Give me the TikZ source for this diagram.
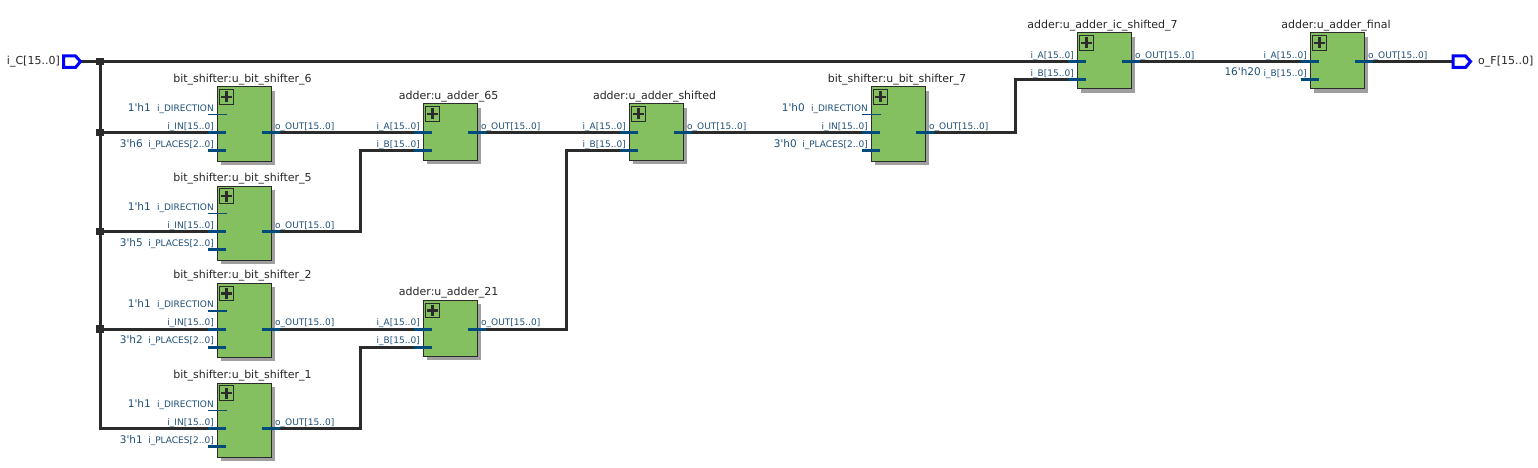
\documentclass[tikz,border=0pt]{standalone}
\usepackage{fontspec}
\newfontfamily\schemfont{DejaVu Sans}
\usetikzlibrary{shadows}
\definecolor{blockgreen}{HTML}{84C060}
\definecolor{portblue}{HTML}{004A7C}
\definecolor{labelblue}{HTML}{1F5078}
\definecolor{wiregray}{HTML}{2B2B2B}

\begin{document}
\catcode`\_=12
\begin{tikzpicture}[%
        x = 1pt,
        y = -1pt,
        wire/.style = {%
            draw = wiregray,
            line width = 3pt
        },
        thickport/.style = {%
            draw = portblue,
            line width = 3pt
        },
        thinport/.style = {%
            draw = portblue,
            line width = 1.1pt
        },
        block/.style = {%
            draw = wiregray,
            fill = blockgreen,
            line width = 0.9pt,
            anchor = north west,
            minimum width = 54pt,
            inner sep = 0pt,
            drop shadow = {%
                shadow xshift = 4pt,
                shadow yshift = -4pt,
                fill = gray!75,
                opacity = 1
            }
        },
        icon/.style = {%
            draw = wiregray,
            fill = blockgreen,
            line width = 0.7pt,
            minimum size = 14.5pt,
            inner sep = 0pt
        },
        junction/.style = {%
            fill = wiregray,
            minimum size = 7.5pt,
            inner sep = 0pt
        },
        pin/.style = {%
            draw = blue,
            line width = 3pt,
            fill = white,
            line join = miter
        },
        title/.style = {%
            font = \schemfont\fontsize{11}{12}\selectfont,
            text = black!85,
            inner sep = 0pt
        },
        portlabel/.style = {%
            font = \schemfont\fontsize{9}{10}\selectfont,
            text = labelblue,
            inner sep = 0pt
        },
        constant/.style = {%
            font = \schemfont\fontsize{10.5}{12}\selectfont,
            text = labelblue,
            inner sep = 0pt,
            anchor = east
        }
    ]

        \useasboundingbox (0, 0) rectangle (1538, 468);

        % Coordinates where the wires change direction.
        \coordinate (corner_bus) at (100, 428.5);
        \coordinate (corner_5a) at (360, 231.5);
        \coordinate (corner_5b) at (360, 150.5);
        \coordinate (corner_1a) at (360, 428.5);
        \coordinate (corner_1b) at (360, 347);
        \coordinate (corner_21a) at (566, 329);
        \coordinate (corner_21b) at (566, 150.5);
        \coordinate (corner_7a) at (1015, 132.5);
        \coordinate (corner_7b) at (1015, 79.5);

        % Ends of the wires at the blocks, set before the blocks go on top.
        \foreach \name/\x/\y in {%
            u_bit_shifter_6/216.5/86.5,
            u_bit_shifter_5/216.5/185.5,
            u_bit_shifter_2/216.5/283,
            u_bit_shifter_1/216.5/382.5,
            u_bit_shifter_7/870.5/86.5
        } {%
            \coordinate (\name_dir) at (\x - 9, \y + 28);
            \coordinate (\name_in) at (\x - 9, \y + 46);
            \coordinate (\name_places) at (\x - 9, \y + 64);
            \coordinate (\name_out) at (\x + 63, \y + 46);
        }
        \foreach \name/\x/\y in {%
            u_adder_65/422.5/103.5,
            u_adder_21/422.5/300,
            u_adder_shifted/628.5/103.5,
            u_adder_ic_shifted_7/1076.5/32.5,
            u_adder_final/1309.5/32.5
        } {%
            \coordinate (\name_a) at (\x - 9, \y + 29);
            \coordinate (\name_b) at (\x - 9, \y + 47);
            \coordinate (\name_out) at (\x + 63, \y + 29);
        }

        % Input and output pins.
        \coordinate (pin_in) at (81, 61.5);
        \coordinate (pin_out) at (1452, 61.5);
        \node[title, anchor = east] (label_in) at (60, 61.5) {i_C[15..0]};
        \node[title, anchor = west] (label_out) at (1478, 61.5) {o_F[15..0]};

        % Junctions on the input bus.
        \node[junction] (tap_top) at (100, 61.5) {};
        \node[junction] (tap_6) at (100, 132.5) {};
        \node[junction] (tap_5) at (100, 231.5) {};
        \node[junction] (tap_2) at (100, 329) {};

        % All the wires.
        \draw[wire] (pin_in) to (tap_top.center) to (u_adder_ic_shifted_7_a);
        \draw[wire] (tap_top.center) to (corner_bus) to (u_bit_shifter_1_in);
        \draw[wire] (tap_6.center) to (u_bit_shifter_6_in);
        \draw[wire] (tap_5.center) to (u_bit_shifter_5_in);
        \draw[wire] (tap_2.center) to (u_bit_shifter_2_in);
        \draw[wire] (u_bit_shifter_6_out) to (u_adder_65_a);
        \draw[wire] (u_bit_shifter_5_out) to (corner_5a) to (corner_5b)
                                          to (u_adder_65_b);
        \draw[wire] (u_bit_shifter_2_out) to (u_adder_21_a);
        \draw[wire] (u_bit_shifter_1_out) to (corner_1a) to (corner_1b)
                                          to (u_adder_21_b);
        \draw[wire] (u_adder_65_out) to (u_adder_shifted_a);
        \draw[wire] (u_adder_21_out) to (corner_21a) to (corner_21b)
                                     to (u_adder_shifted_b);
        \draw[wire] (u_adder_shifted_out) to (u_bit_shifter_7_in);
        \draw[wire] (u_bit_shifter_7_out) to (corner_7a) to (corner_7b)
                                          to (u_adder_ic_shifted_7_b);
        \draw[wire] (u_adder_ic_shifted_7_out) to (u_adder_final_a);
        \draw[wire] (u_adder_final_out) to (pin_out);

        % Draw the pins over the wire ends.
        \draw[pin] (63.5, 56) to (75.5, 56) to (80.5, 61.5) to (75.5, 67.5)
                   to (63.5, 67.5) to cycle;
        \draw[pin] (1453, 56) to (1465.5, 56) to (1470.5, 61.5)
                   to (1465.5, 67.5) to (1453, 67.5) to cycle;

        % Draw the bit shifter blocks.
        \foreach \name/\x/\y/\titlex/\dirval/\placesval in {%
            u_bit_shifter_6/216.5/86.5/242.5/1'h1/3'h6,
            u_bit_shifter_5/216.5/185.5/242.5/1'h1/3'h5,
            u_bit_shifter_2/216.5/283/242.5/1'h1/3'h2,
            u_bit_shifter_1/216.5/382.5/242.5/1'h1/3'h1,
            u_bit_shifter_7/870.5/86.5/897/1'h0/3'h0
        } {%
            \node[block, minimum height = 74pt] (\name) at (\x, \y) {};
            \node[icon] (\name_icon) at (\x + 10, \y + 10.5) {};
            \draw[wiregray, line width = 2.8pt]
                (\x + 4.5, \y + 10.5) to (\x + 15.5, \y + 10.5)
                (\x + 10, \y + 5) to (\x + 10, \y + 16);
            \node[title] (\name_title) at (\titlex, \y - 7)
                {bit_shifter:\name};
            \draw[thinport] (\name_dir) to ++(19, 0);
            \draw[thickport] (\name_in) to ++(18, 0);
            \draw[thickport] (\name_places) to ++(18, 0);
            \draw[thickport] (\name_out) to ++(-18, 0);
            \node[portlabel, anchor = east] (\name_dirlabel)
                at (\x - 2.5, \y + 22.5) {i_DIRECTION};
            \node[portlabel, anchor = east] (\name_inlabel)
                at (\x - 2.5, \y + 40.5) {i_IN[15..0]};
            \node[portlabel, anchor = east] (\name_placeslabel)
                at (\x - 2.5, \y + 58.5) {i_PLACES[2..0]};
            \node[portlabel, anchor = west] (\name_outlabel)
                at (\x + 58.5, \y + 40.5) {o_OUT[15..0]};
            \node[constant] (\name_dirval) at (\x - 65.5, \y + 21) {\dirval};
            \node[constant] (\name_placesval) at (\x - 73.5, \y + 57)
                {\placesval};
        }

        % Draw the adder blocks.
        \foreach \name/\x/\y/\titlex in {%
            u_adder_65/422.5/103.5/448.7,
            u_adder_21/422.5/300/448.7,
            u_adder_shifted/628.5/103.5/654.5,
            u_adder_ic_shifted_7/1076.5/32.5/1102.5,
            u_adder_final/1309.5/32.5/1336
        } {%
            \node[block, minimum height = 56pt] (\name) at (\x, \y) {};
            \node[icon] (\name_icon) at (\x + 10, \y + 10.5) {};
            \draw[wiregray, line width = 2.8pt]
                (\x + 4.5, \y + 10.5) to (\x + 15.5, \y + 10.5)
                (\x + 10, \y + 5) to (\x + 10, \y + 16);
            \node[title] (\name_title) at (\titlex, \y - 7) {adder:\name};
            \draw[thickport] (\name_a) to ++(18, 0);
            \draw[thickport] (\name_b) to ++(18, 0);
            \draw[thickport] (\name_out) to ++(-18, 0);
            \node[portlabel, anchor = east] (\name_alabel)
                at (\x - 2.5, \y + 23.5) {i_A[15..0]};
            \node[portlabel, anchor = east] (\name_blabel)
                at (\x - 2.5, \y + 41.5) {i_B[15..0]};
            \node[portlabel, anchor = west] (\name_outlabel)
                at (\x + 58.5, \y + 23.5) {o_OUT[15..0]};
        }

        % Constant on the last adder.
        \node[constant] (final_const) at (1261, 72) {16'h20};
    \end{tikzpicture}
\end{document}
